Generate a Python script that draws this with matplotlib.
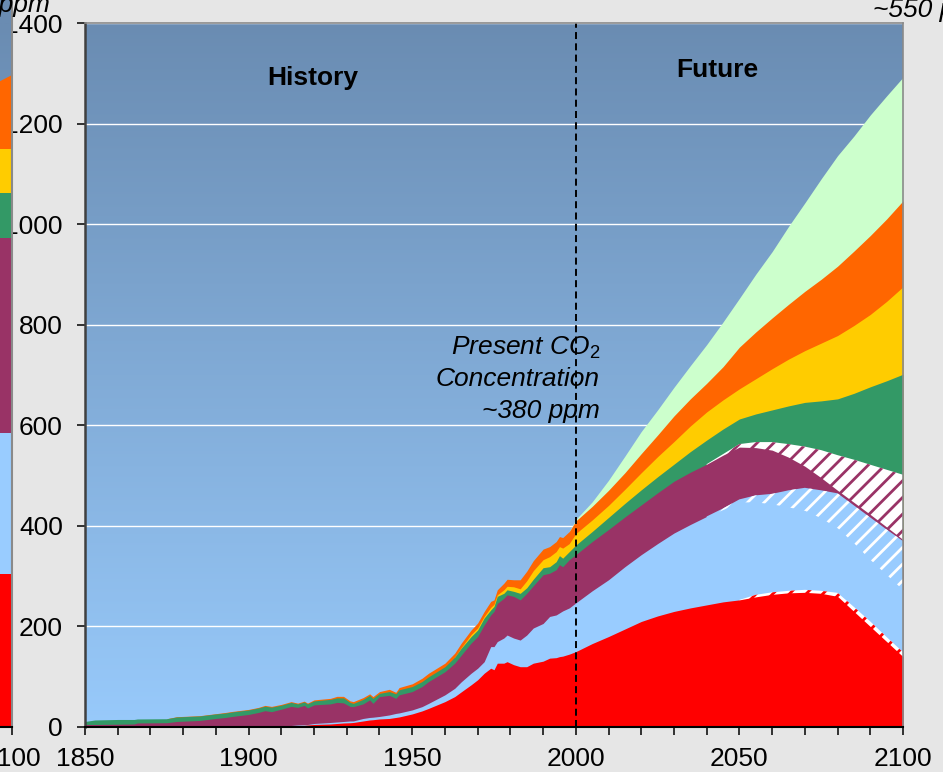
import numpy as np
import matplotlib
matplotlib.use("Agg")
import matplotlib.pyplot as plt
from matplotlib.ticker import MultipleLocator
from matplotlib.colors import to_rgb

plt.rcParams['font.family'] = ['Liberation Sans', 'DejaVu Sans']
plt.rcParams['mathtext.fontset'] = 'custom'
plt.rcParams['mathtext.rm'] = 'Liberation Sans'
plt.rcParams['mathtext.it'] = 'Liberation Sans:italic'
plt.rcParams['hatch.linewidth'] = 2.0

# ---------------------------------------------------------------- data (ppm)
years = [1850, 1853, 1860, 1865, 1866, 1875, 1878, 1885, 1890, 1893,
         1895, 1900, 1903, 1905, 1907, 1910, 1913, 1915, 1917, 1918,
         1920, 1925, 1927, 1929, 1931, 1932, 1935, 1937, 1938, 1940,
         1943, 1945, 1946, 1950, 1953, 1955, 1960, 1963, 1965, 1968,
         1970, 1972, 1974, 1975, 1976, 1978, 1979, 1981, 1983, 1985,
         1987, 1990, 1992, 1994, 1995, 1996, 1998, 2000,
         2005, 2010, 2015, 2020, 2025, 2030, 2035, 2040, 2045, 2050,
         2055, 2060, 2065, 2070, 2075, 2080, 2085, 2090, 2095, 2100]

red = [0, 0, 0, 0, 0, 0, 0, 0, 0, 0,
       0, 0, 0, 0, 0, 1, 1.5, 2, 2.5, 3,
       4, 5, 6, 7, 7.5, 8, 11, 13, 13.5, 15,
       16, 18, 19, 25, 31, 36, 49.5, 59.5, 69, 83,
       93, 106, 116, 113, 126, 126, 129, 123, 119, 119,
       126, 130, 136, 137, 139, 140, 144, 149,
       165, 179, 194, 209, 220, 229, 236, 242, 248, 252,
       258, 263, 266, 267, 265, 259, 229, 199, 169, 139]

red_hatched = [0] * 68 + [4, 4, 4, 5, 5, 7, 9, 10, 9, 9]

light_blue = [0, 0, 0, 0, 0, 0, 0, 0, 0, 0,
              0, 0, 0, 0.5, 0.5, 0.5, 0.5, 1, 1.5, 1,
              2, 3, 3, 3, 3.5, 3, 5, 5, 5, 5,
              7, 8, 8, 8, 8.5, 10, 13.5, 16.5, 20, 23,
              23, 23, 43, 46, 43, 50, 53, 53, 53, 63,
              70, 75, 83, 85, 87, 90, 92, 97,
              105, 113, 124, 133, 144, 156, 166, 176, 184, 195,
              185, 176, 167, 158, 145, 129, 127, 123, 124, 124]

light_blue_hatched = [0] * 66 + [2, 5, 13, 20, 33, 45, 55, 69, 75, 84, 90, 97]

purple = [4, 4, 4.5, 5, 7, 7.5, 10, 12, 16, 18,
          20, 24, 28, 31, 29, 33, 38, 35, 38, 33,
          37, 37, 39, 37, 29, 28.5, 29, 35, 27.5, 39.5,
          39, 30, 36, 36.5, 40, 43.5, 46, 50, 53, 60,
          63, 73, 63, 70, 76, 79, 80, 83, 80, 83,
          84, 97, 86, 90, 96, 88, 96, 96,
          98, 100, 99, 99, 101, 103, 104, 104, 106, 104,
          95, 87, 66, 43, 25, 6, 6, 6, 5, 3]

purple_hatched = [0] * 66 + [2, 6, 11, 16, 26, 39, 55, 70, 85, 99, 114, 129]

green = [6, 9, 9.5, 9, 8, 8, 9, 9, 9, 9,
         9, 9, 9, 9, 9, 8, 8, 7, 7, 8,
         8, 9, 9, 10, 8, 6.5, 9, 9, 10, 6.5,
         7.5, 9, 10, 10, 10, 9.5, 10, 12, 14, 13,
         13, 14, 10, 10, 14, 10, 10, 10, 13, 11,
         13, 14, 13, 16, 18, 17, 16, 19,
         20, 24, 27, 30, 32, 34, 41, 48, 50, 50,
         56, 64, 76, 88, 98, 112, 132, 155, 177, 200]

yellow = [0] * 38 + [1, 4,
          4, 3, 5, 4, 3, 7, 7, 9, 9, 14,
          17, 16, 20, 20, 18, 20, 16, 23,
          23, 24, 28, 34, 40, 45, 51, 56, 58, 60,
          70, 82, 93, 103, 115, 126, 135, 144, 158, 174]

orange = [0, 0, 0, 0, 0, 0, 0.5, 0.5, 0.5, 1,
          1, 1, 1, 1.5, 1.5, 1.5, 1.5, 1.5, 1.5, 1.5,
          2, 2, 3, 3, 3, 3.5, 3.5, 3, 3.5, 3.5,
          4.5, 3, 4.5, 5.5, 6.5, 7, 7, 8, 9, 9,
          10, 10, 12, 9, 10, 13, 14, 14, 18, 19,
          20, 21, 20, 20, 20, 21, 24, 25,
          27, 30, 33, 38, 43, 51, 54, 57, 66, 83,
          93, 101, 109, 118, 127, 138, 148, 157, 164, 171]

light_green = [0] * 57 + [3,
               9, 20, 33, 44, 50, 57, 66, 77, 89, 97,
               115, 132, 155, 176, 200, 220, 229, 240, 245, 246]

# neighbouring chart (its 2100 end), seen at the left edge
side_years = [2096, 2100]
side_red = [304, 304]
side_light_blue = [281, 281]
side_purple = [387, 387]
side_green = [90, 90]
side_yellow = [88, 88]
side_orange = [115, 148]

# ---------------------------------------------------------------- styles
C_RED = '#FF0000'
C_LBLUE = '#99CCFF'
C_PURPLE = '#993366'
C_GREEN = '#339966'
C_YELLOW = '#FFCC00'
C_ORANGE = '#FF6600'
C_LGREEN = '#CCFFCC'
SKY_TOP = '#6A8CB2'
SKY_BOTTOM = '#98CAFB'
FIG_BG = '#E6E6E6'

main_layers = [
    (red, dict(facecolor=C_RED, edgecolor=C_RED)),
    (red_hatched, dict(facecolor='white', edgecolor=C_RED, hatch='//')),
    (light_blue, dict(facecolor=C_LBLUE, edgecolor=C_LBLUE)),
    (light_blue_hatched, dict(facecolor=C_LBLUE, edgecolor='white', hatch='//')),
    (purple, dict(facecolor=C_PURPLE, edgecolor=C_PURPLE)),
    (purple_hatched, dict(facecolor='white', edgecolor=C_PURPLE, hatch='//')),
    (green, dict(facecolor=C_GREEN, edgecolor=C_GREEN)),
    (yellow, dict(facecolor=C_YELLOW, edgecolor=C_YELLOW)),
    (orange, dict(facecolor=C_ORANGE, edgecolor=C_ORANGE)),
    (light_green, dict(facecolor=C_LGREEN, edgecolor=C_LGREEN)),
]
side_layers = [
    (side_red, dict(facecolor=C_RED, edgecolor=C_RED)),
    (side_light_blue, dict(facecolor=C_LBLUE, edgecolor=C_LBLUE)),
    (side_purple, dict(facecolor=C_PURPLE, edgecolor=C_PURPLE)),
    (side_green, dict(facecolor=C_GREEN, edgecolor=C_GREEN)),
    (side_yellow, dict(facecolor=C_YELLOW, edgecolor=C_YELLOW)),
    (side_orange, dict(facecolor=C_ORANGE, edgecolor=C_ORANGE)),
]

for vals, _ in main_layers:
    assert len(vals) == len(years), len(vals)


def sky(ax, x0, x1, y0, y1):
    top = np.array(to_rgb(SKY_TOP))
    bot = np.array(to_rgb(SKY_BOTTOM))
    t = np.linspace(0, 1, 512)[:, None, None]
    img = top + (bot - top) * t
    ax.imshow(img, extent=[x0, x1, y0, y1], aspect='auto', origin='upper',
              interpolation='bilinear', zorder=-2)


def stacked(ax, x, layers):
    x = np.asarray(x, float)
    vals = [np.asarray(v, float) for v, _ in layers]
    tops = np.cumsum(vals, axis=0)
    # paint from the uppermost band down so each band hides the ones above
    for v, (_, style), top in reversed(list(zip(vals, layers, tops))):
        on = v > 0
        on = on | np.r_[on[1:], False] | np.r_[False, on[:-1]]
        if not on.any():
            continue
        ax.fill_between(x, 0, top, where=on, linewidth=0, zorder=2, **style)


# ---------------------------------------------------------------- figure
W, H = 943, 772
fig = plt.figure(figsize=(W / 100, H / 100), dpi=100, facecolor=FIG_BG)

ax_l, ax_b, ax_r, ax_t = 85, 726.5, 903, 23
main_rect = [ax_l / W, 1 - ax_b / H, (ax_r - ax_l) / W, (ax_b - ax_t) / H]
ax = fig.add_axes(main_rect)

sky(ax, 1850, 2100, 0, 1400)
ax.set_xlim(1850, 2100)
ax.set_ylim(0, 1400)

ax.set_axisbelow(True)
ax.yaxis.grid(True, color='white', linewidth=1.0, zorder=0.5)
ax.xaxis.grid(False)

stacked(ax, years, main_layers)

ax.axvline(2000, color='black', linewidth=1.4, linestyle=(0, (3.6, 2.2)),
           zorder=4)

ax.set_xticks(range(1850, 2101, 50))
ax.xaxis.set_minor_locator(MultipleLocator(10))
ax.set_yticks(range(0, 1401, 200))
ax.tick_params(axis='both', which='both', direction='out', length=6,
               width=1.1, color='black', labelsize=19)
ax.tick_params(axis='x', which='major', pad=9)
ax.tick_params(axis='y', which='major', pad=10)

ax.spines['left'].set_color('#404040')
ax.spines['left'].set_linewidth(1.8)
ax.spines['bottom'].set_color('black')
ax.spines['bottom'].set_linewidth(1.5)
for s in ('top', 'right'):
    ax.spines[s].set_color('#8A8A8A')
    ax.spines[s].set_linewidth(1.2)
for s in ax.spines.values():
    s.set_zorder(5)

ax.text(1919.7, 1277, 'History', ha='center', va='baseline',
        fontsize=19, fontweight='bold', zorder=6)
ax.text(2043.2, 1292, 'Future', ha='center', va='baseline',
        fontsize=19, fontweight='bold', zorder=6)

for txt, yv in (('Present CO$_2$', 740), ('Concentration', 677),
                ('~380 ppm', 614)):
    ax.text(2007.4, yv, txt, ha='right', va='baseline', fontsize=19,
            fontstyle='italic', zorder=6)

# ---------------------------------------------------------------- side panel
side_left_px, side_right_px = -20, 12
side_h = 1.02 - (1 - ax_b / H)
side_rect = [side_left_px / W, 1 - ax_b / H,
             (side_right_px - side_left_px) / W, side_h]
axs = fig.add_axes(side_rect, zorder=3)
axs.set_facecolor(SKY_TOP)
sky(axs, side_years[0], side_years[-1], 0, 1400)
stacked(axs, side_years, side_layers)
axs.set_xlim(side_years[0], side_years[-1])
axs.set_ylim(0, 1400 * side_h / main_rect[3])
axs.set_xticks([2100])
axs.set_yticks([])
axs.tick_params(axis='x', direction='out', length=6, width=1.1,
                color='black', labelsize=19, pad=9)
axs.spines['top'].set_visible(False)
axs.spines['left'].set_visible(False)
axs.spines['right'].set_color('#8A8A8A')
axs.spines['right'].set_linewidth(1.5)
axs.spines['bottom'].set_color('black')
axs.spines['bottom'].set_linewidth(1.5)

# annotations of the neighbouring charts
fig.text(50 / W, 1 - 12 / H, '~450 ppm', ha='right', va='baseline',
         fontsize=19, fontstyle='italic', zorder=10)
fig.text(873 / W, 1 - 16.7 / H, '~550 ppm', ha='left', va='baseline',
         fontsize=19, fontstyle='italic')

fig.savefig('out.png', dpi=100, facecolor=FIG_BG)
